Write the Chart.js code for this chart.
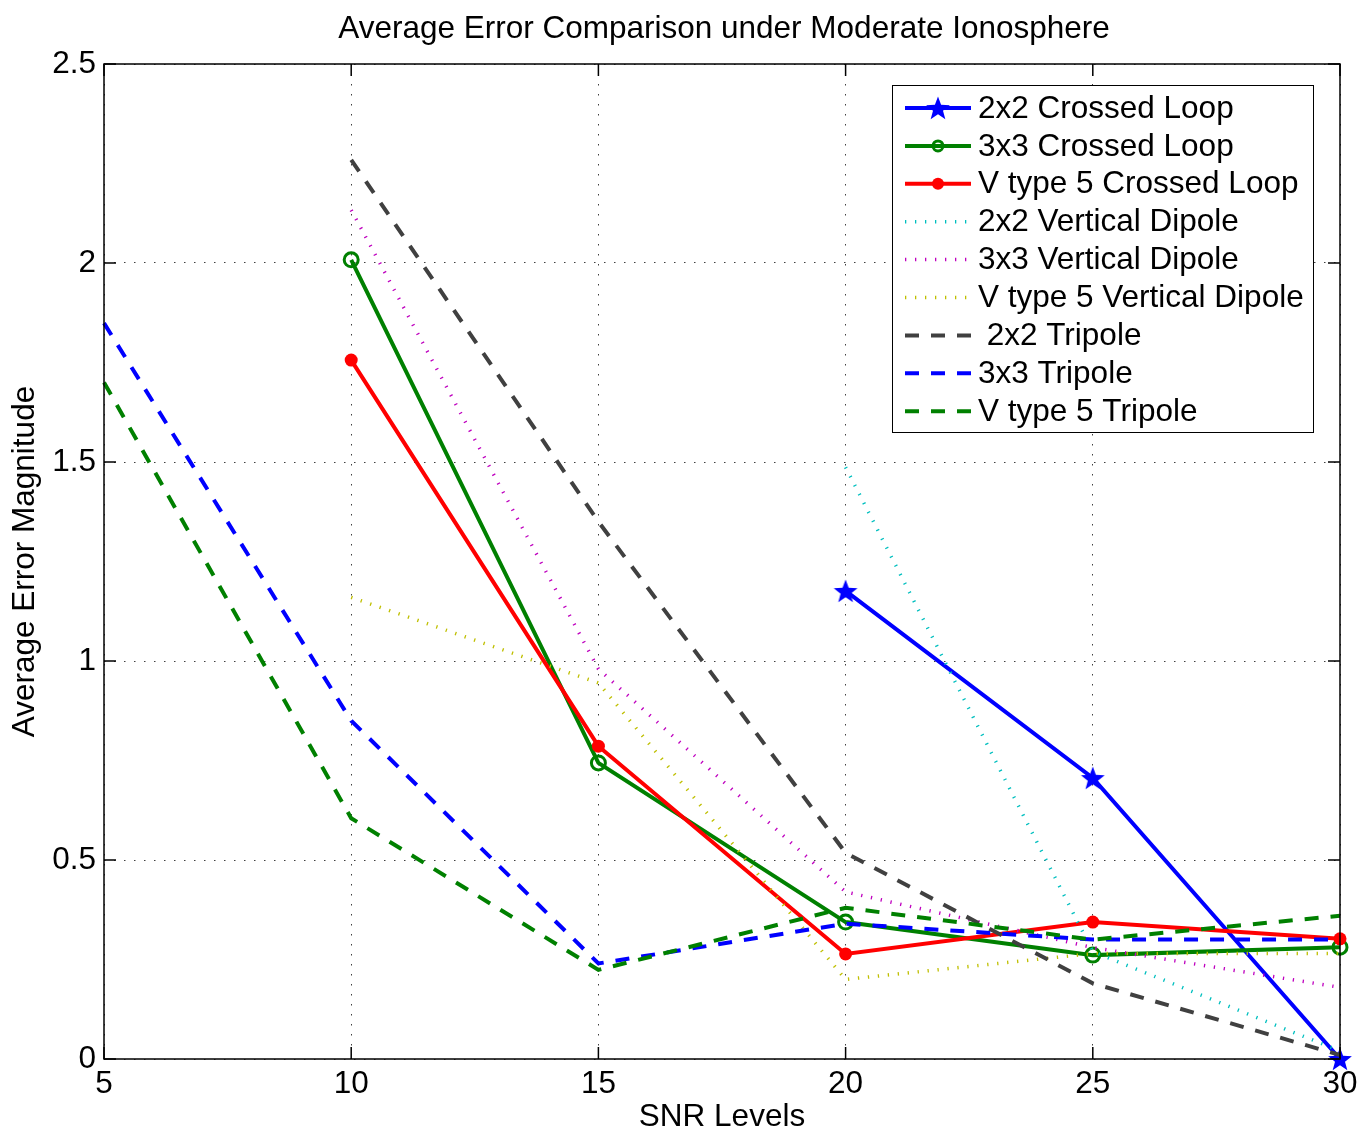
<!DOCTYPE html>
<html>
<head>
<meta charset="utf-8">
<script src="https://cdn.jsdelivr.net/npm/chart.js@4"></script>
<style>
  html, body { margin: 0; padding: 0; background: #fff; }
  #wrap { width: 1361px; height: 1133px; position: relative; }
</style>
</head>
<body>
<div id="wrap"><canvas id="errChart" width="1361" height="1133"></canvas></div>
<script>
// SNR levels (x axis)
const snrLevels = [5, 10, 15, 20, 25, 30];

// average error per series, null = not plotted
const loop2x2 = [null, null, null, 1.176, 0.706, 0.0];
const loop3x3 = [null, 2.008, 0.744, 0.344, 0.261, 0.281];
const loopV5 = [null, 1.756, 0.786, 0.264, 0.344, 0.302];
const dipole2x2 = [null, null, null, 1.487, 0.27, 0.02];
const dipole3x3 = [null, 2.133, 0.98, 0.42, 0.28, 0.18];
const dipoleV5 = [null, 1.16, 0.945, 0.20, 0.265, 0.265];
const tripole2x2 = [null, 2.259, 1.35, 0.518, 0.19, 0.01];
const tripole3x3 = [1.849, 0.85, 0.24, 0.34, 0.30, 0.30];
const tripoleV5 = [1.70, 0.605, 0.224, 0.38, 0.30, 0.36];

const yTicks = [0, 0.5, 1, 1.5, 2, 2.5];
const xTicks = [5, 10, 15, 20, 25, 30];

const FONT = "'Liberation Sans', Arial, Helvetica, sans-serif";
const FS = 31.5;

// filled 5-point star marker
function makeStar(size, color) {
    const c = document.createElement('canvas');
    c.width = size; c.height = size;
    const g = c.getContext('2d');
    const cx = size / 2, cy = size / 2, ro = size / 2 - 0.5, ri = ro * 0.42;
    g.beginPath();
    for (let i = 0; i < 10; i++) {
        const r = i % 2 === 0 ? ro : ri;
        const a = -Math.PI / 2 + i * Math.PI / 5;
        const px = cx + r * Math.cos(a), py = cy + r * Math.sin(a) + size * 0.04;
        if (i === 0) g.moveTo(px, py); else g.lineTo(px, py);
    }
    g.closePath();
    g.fillStyle = color;
    g.fill();
    return c;
}
const starImg = makeStar(26, '#0000ff');

const toXY = vals => vals.map((v, i) => ({ x: snrLevels[i], y: v }));

const DOT = [1.3, 8.7];
const DASH = [14, 12];

const seriesDefs = [
    { label: '2x2 Crossed Loop', data: loop2x2, color: '#0000ff', dash: [], width: 4, marker: 'star' },
    { label: '3x3 Crossed Loop', data: loop3x3, color: '#008000', dash: [], width: 4, marker: 'open' },
    { label: 'V type 5 Crossed Loop', data: loopV5, color: '#ff0000', dash: [], width: 4, marker: 'dot' },
    { label: '2x2 Vertical Dipole', data: dipole2x2, color: '#00bfbf', dash: DOT, width: 3.5, marker: null },
    { label: '3x3 Vertical Dipole', data: dipole3x3, color: '#bf00bf', dash: DOT, width: 3.5, marker: null },
    { label: 'V type 5 Vertical Dipole', data: dipoleV5, color: '#bfbf00', dash: DOT, width: 3.5, marker: null },
    { label: ' 2x2 Tripole', data: tripole2x2, color: '#404040', dash: DASH, width: 4, marker: null },
    { label: '3x3 Tripole', data: tripole3x3, color: '#0000ff', dash: DASH, width: 4, marker: null },
    { label: 'V type 5 Tripole', data: tripoleV5, color: '#008000', dash: DASH, width: 4, marker: null }
];

const datasets = seriesDefs.map((s, i) => {
    const ds = {
        label: s.label,
        data: toXY(s.data),
        borderColor: s.color,
        backgroundColor: s.color,
        borderWidth: s.width,
        borderDash: s.dash,
        fill: false,
        tension: 0,
        clip: false,
        order: seriesDefs.length - i,
        pointRadius: 0,
        pointHoverRadius: 0
    };
    if (s.marker === 'star') {
        ds.pointStyle = starImg;
        ds.pointRadius = 13;
    } else if (s.marker === 'open') {
        ds.pointStyle = 'circle';
        ds.pointRadius = 7;
        ds.pointBorderWidth = 3;
        ds.pointBackgroundColor = 'rgba(0,0,0,0)';
        ds.pointBorderColor = s.color;
    } else if (s.marker === 'dot') {
        ds.pointStyle = 'circle';
        ds.pointRadius = 6.5;
        ds.pointBorderWidth = 0;
        ds.pointBackgroundColor = s.color;
    }
    return ds;
});

// MATLAB style frame, inward ticks, title and legend box
const matlabFrame = {
    id: 'matlabFrame',
    afterDatasetsDraw(chart) {
        const { ctx, chartArea: a, scales } = chart;
        ctx.save();
        ctx.strokeStyle = '#000';
        ctx.lineWidth = 1.5;
        ctx.setLineDash([]);
        ctx.strokeRect(a.left, a.top, a.right - a.left, a.bottom - a.top);
        const tl = 12;
        ctx.beginPath();
        xTicks.forEach(t => {
            const px = scales.x.getPixelForValue(t);
            ctx.moveTo(px, a.bottom); ctx.lineTo(px, a.bottom - tl);
            ctx.moveTo(px, a.top); ctx.lineTo(px, a.top + tl);
        });
        yTicks.forEach(t => {
            const py = scales.y.getPixelForValue(t);
            ctx.moveTo(a.left, py); ctx.lineTo(a.left + tl, py);
            ctx.moveTo(a.right, py); ctx.lineTo(a.right - tl, py);
        });
        ctx.stroke();

        // title
        ctx.fillStyle = '#000';
        ctx.font = FS + 'px ' + FONT;
        ctx.textAlign = 'center';
        ctx.textBaseline = 'middle';
        ctx.fillText('Average Error Comparison under Moderate Ionosphere', (a.left + a.right) / 2 + 2, 29);

        // legend
        const bx = 892, by = 85, bw = 421, bh = 347;
        ctx.fillStyle = '#fff';
        ctx.fillRect(bx, by, bw, bh);
        ctx.strokeStyle = '#000';
        ctx.lineWidth = 1;
        ctx.strokeRect(bx + 0.5, by + 0.5, bw, bh);
        const rowH = 37.9;
        seriesDefs.forEach((s, i) => {
            const ly = 108 + i * rowH;
            ctx.save();
            ctx.strokeStyle = s.color;
            ctx.lineWidth = s.width;
            ctx.setLineDash(s.dash);
            ctx.beginPath();
            ctx.moveTo(905, ly); ctx.lineTo(971, ly);
            ctx.stroke();
            ctx.setLineDash([]);
            if (s.marker === 'star') {
                ctx.drawImage(starImg, 938 - 13, ly - 13);
            } else if (s.marker === 'open') {
                ctx.lineWidth = 3;
                ctx.beginPath(); ctx.arc(938, ly, 5, 0, Math.PI * 2); ctx.stroke();
            } else if (s.marker === 'dot') {
                ctx.fillStyle = s.color;
                ctx.beginPath(); ctx.arc(938, ly, 6, 0, Math.PI * 2); ctx.fill();
            }
            ctx.restore();
            ctx.fillStyle = '#000';
            ctx.font = FS + 'px ' + FONT;
            ctx.textAlign = 'left';
            ctx.textBaseline = 'middle';
            ctx.fillText(s.label, 978, ly + 1);
        });
        ctx.restore();
    }
};

const ctx = document.getElementById('errChart').getContext('2d');
new Chart(ctx, {
    type: 'line',
    data: { datasets: datasets },
    plugins: [matlabFrame],
    options: {
        responsive: false,
        animation: false,
        devicePixelRatio: 1,
        layout: { padding: { top: 64, right: 21, left: 0, bottom: 0 } },
        plugins: {
            legend: { display: false },
            title: { display: false },
            tooltip: { enabled: false }
        },
        scales: {
            x: {
                type: 'linear',
                min: 5,
                max: 30,
                afterBuildTicks: scale => { scale.ticks = xTicks.map(v => ({ value: v })); },
                afterFit: scale => {
                    scale.height = 74;
                    scale.paddingLeft = 0;
                    scale.paddingRight = 0;
                },
                ticks: {
                    color: '#000',
                    font: { family: FONT, size: FS },
                    padding: 6,
                    maxRotation: 0,
                    callback: v => String(v)
                },
                grid: {
                    color: 'rgba(0,0,0,0.75)',
                    lineWidth: 1,
                    drawTicks: false
                },
                border: { display: false, dash: [1.5, 8.5] },
                title: {
                    display: true,
                    text: 'SNR Levels',
                    color: '#000',
                    font: { family: FONT, size: FS },
                    padding: { top: 0, bottom: -3 }
                }
            },
            y: {
                type: 'linear',
                min: 0,
                max: 2.5,
                afterBuildTicks: scale => { scale.ticks = yTicks.map(v => ({ value: v })); },
                afterFit: scale => {
                    scale.width = 104;
                    scale.paddingTop = 0;
                    scale.paddingBottom = 0;
                },
                ticks: {
                    color: '#000',
                    font: { family: FONT, size: FS },
                    padding: 8,
                    callback: v => String(v)
                },
                grid: {
                    color: 'rgba(0,0,0,0.75)',
                    lineWidth: 1,
                    drawTicks: false
                },
                border: { display: false, dash: [1.5, 8.5] },
                title: {
                    display: true,
                    text: 'Average Error Magnitude',
                    color: '#000',
                    font: { family: FONT, size: FS },
                    padding: { top: 6, bottom: 0 }
                }
            }
        }
    }
});
</script>
</body>
</html>
